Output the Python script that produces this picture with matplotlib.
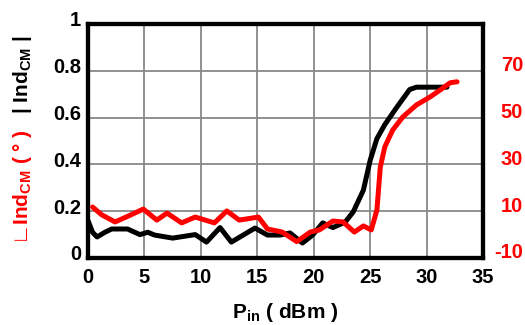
import matplotlib
matplotlib.use("Agg")
import matplotlib.pyplot as plt
import matplotlib.transforms as mtransforms

plt.rcParams['font.family'] = ['Liberation Sans', 'DejaVu Sans']
plt.rcParams['font.weight'] = 'bold'
plt.rcParams['axes.unicode_minus'] = False
plt.rcParams['mathtext.fontset'] = 'custom'
plt.rcParams['mathtext.rm'] = 'Liberation Sans:bold'
plt.rcParams['mathtext.bf'] = 'Liberation Sans:bold'
plt.rcParams['mathtext.it'] = 'Liberation Sans:bold'

# |Ind_CM| (left axis, black)
p_mag = [0, 0.4, 0.8, 1.5, 2.1, 3.5, 4.6, 5.3, 5.9, 7.5, 9.5, 10.5, 11.7, 12.7,
         14.8, 15.9, 17.0, 17.9, 19.0, 19.9, 20.8, 21.7, 22.8, 23.5, 24.4, 25.0,
         25.6, 26.3, 27.3, 28.5, 29.1, 31.8]
ind_mag = [0.16, 0.11, 0.09, 0.11, 0.124, 0.124, 0.10, 0.11, 0.098, 0.085, 0.10,
           0.068, 0.13, 0.068, 0.128, 0.098, 0.098, 0.107, 0.064, 0.098, 0.15,
           0.13, 0.154, 0.197, 0.29, 0.417, 0.51, 0.57, 0.64, 0.72, 0.73, 0.73]

# angle Ind_CM in degrees (right axis, red)
p_ang = [0.4, 1.2, 2.4, 3.6, 4.9, 6.1, 7.0, 8.3, 9.5, 11.2, 12.3, 13.4, 15.1,
         15.9, 17.2, 18.5, 19.7, 20.5, 21.7, 22.6, 23.6, 24.4, 25.1, 25.6, 25.9,
         26.3, 27.0, 27.9, 29.1, 30.3, 31.2, 32.1, 32.7]
ind_ang = [11.8, 8.5, 5.4, 8.0, 10.9, 6.2, 9.2, 5.0, 7.5, 5.0, 10.1, 6.2, 7.5,
           2.4, 1.1, -3.0, 1.1, 2.0, 5.8, 5.4, 1.1, 3.7, 2.0, 10.5, 28.9, 37.5,
           44.7, 50.3, 55.4, 58.8, 61.8, 64.9, 65.3]

x_ticks = [0, 5, 10, 15, 20, 25, 30, 35]
left_ticks = [0, 0.2, 0.4, 0.6, 0.8, 1]
left_labels = ['0', '0.2', '0.4', '0.6', '0.8', '1']
right_ticks = [-10, 10, 30, 50, 70]

fig = plt.figure(figsize=(5.25, 3.25), dpi=100)
ax = fig.add_axes([88/525, 1-258/325, (483-88)/525, (258-24)/325])
ax2 = ax.twinx()

ax.plot(p_mag, ind_mag, color='black', lw=3.6, zorder=3,
        solid_joinstyle='round', solid_capstyle='round')
ax2.plot(p_ang, ind_ang, color='#ff0000', lw=3.6, zorder=4,
         solid_joinstyle='round', solid_capstyle='round')

ax.set_xlim(0, 35)
ax.set_ylim(0, 1)
ax2.set_ylim(-10, 90)
ax.set_xticks(x_ticks)
ax.set_yticks(left_ticks)
ax.set_yticklabels(left_labels)
ax2.set_yticks(right_ticks)
ax2.set_yticklabels([])
ax.grid(True, color='#888888', lw=1.3)
ax.set_axisbelow(True)

for a in (ax, ax2):
    for s in a.spines.values():
        s.set_linewidth(3)
        s.set_color('black')
ax.tick_params(axis='both', length=0, labelsize=14.5)
ax.tick_params(axis='x', pad=7)
ax.tick_params(axis='y', pad=5)
ax2.tick_params(axis='y', length=0)

shift = mtransforms.ScaledTranslation(0, 0.05, fig.dpi_scale_trans)
for lab in ax.get_yticklabels():
    lab.set_transform(lab.get_transform() + shift)

# right-hand tick labels, right aligned near the figure edge
rtrans = mtransforms.blended_transform_factory(fig.transFigure, ax2.transData) + shift
for v in right_ticks:
    fig.text(523/525, v, str(v), transform=rtrans, fontsize=14.5,
             color='#ff0000', ha='right', va='center')

fig.text(285/525, 1-312/325, r'P$_{\mathbf{in}}$ ( dBm )', fontsize=15,
         ha='center', va='center')
fig.text(23/525, 1-187/325, '\u221f' + r'Ind$_{\mathbf{CM}}$ ( ° )', fontsize=15,
         color='#ff0000', rotation=90, ha='center', va='center')
fig.text(23/525, 1-75/325, r'| Ind$_{\mathbf{CM}}$ |', fontsize=15,
         color='black', rotation=90, ha='center', va='center')

fig.savefig('out.png', dpi=100)
